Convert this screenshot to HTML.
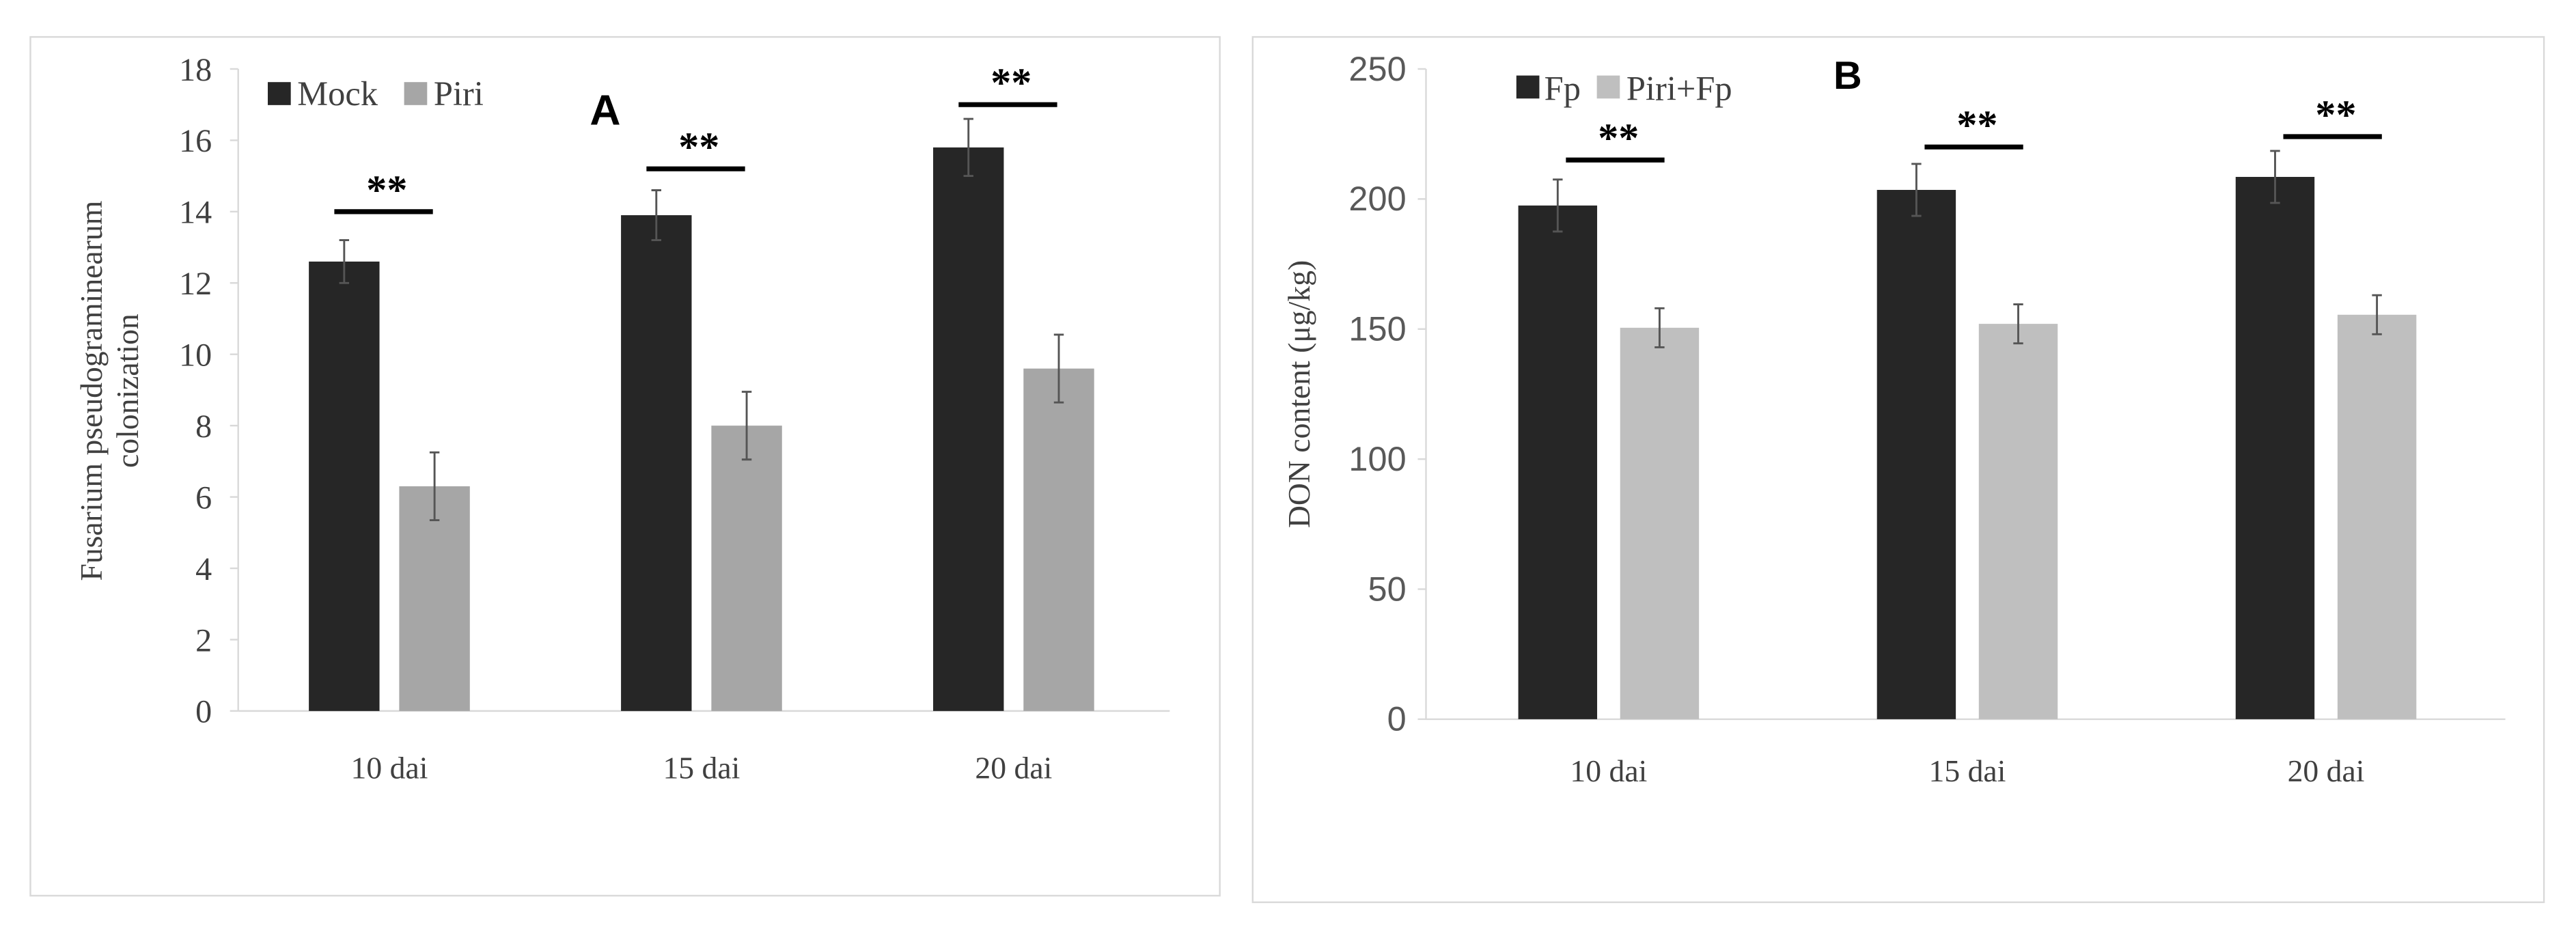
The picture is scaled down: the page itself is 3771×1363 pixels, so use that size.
<!DOCTYPE html>
<html><head><meta charset="utf-8"><style>
html,body{margin:0;padding:0;background:#fff;}
svg{display:block;}
</style></head><body>
<svg id="fig" width="3771" height="1363" viewBox="0 0 1568 567" preserveAspectRatio="none" xmlns="http://www.w3.org/2000/svg">
<rect x="18.5" y="22.5" width="724" height="523" fill="#fff" stroke="#d9d9d9" stroke-width="1"/>
<rect x="762.5" y="22.5" width="786" height="527" fill="#fff" stroke="#d9d9d9" stroke-width="1"/>
<g id="chartA"></g>
<g id="chartB"></g>
</svg>
<script>
const categories = ["10 dai","15 dai","20 dai"];
const mockValues = [12.6, 13.9, 15.8];
const mockErr = [0.6, 0.7, 0.8];
const piriValues = [6.3, 8.0, 9.6];
const piriErr = [0.95, 0.95, 0.95];
const ticksA = [0,2,4,6,8,10,12,14,16,18];
const sigA = [14.0, 15.2, 17.0];

const fpValues = [197.5, 203.5, 208.5];
const fpErr = [10, 10, 10];
const piriFpValues = [150.5, 152, 155.5];
const piriFpErr = [7.5, 7.5, 7.5];
const ticksB = [0,50,100,150,200,250];
const sigB = [215, 220, 224];

const NS = "http://www.w3.org/2000/svg";
function mk(parent, tag, attrs, text){
  const e = document.createElementNS(NS, tag);
  for (const k in attrs) e.setAttribute(k, attrs[k]);
  if (text !== undefined) e.textContent = text;
  parent.appendChild(e);
  return e;
}

function drawChart(g, cfg){
  const y = v => cfg.y0 - (v - cfg.min) / (cfg.max - cfg.min) * (cfg.y0 - cfg.y1);
  const catW = (cfg.xR - cfg.xC) / categories.length;
  const xc = i => cfg.xC + catW * (i + 0.5);
  const ax = mk(g,'line',{x1:cfg.xL,y1:cfg.y1,x2:cfg.xL,y2:cfg.y0,stroke:'#d9d9d9','stroke-width':1});
  
  
  const bx = mk(g,'line',{x1:cfg.xL,y1:cfg.y0,x2:cfg.xR,y2:cfg.y0,stroke:'#d9d9d9','stroke-width':1});
  
  
  cfg.ticks.forEach(t=>{
    const tl = mk(g,'line',{x1:cfg.xL-5,y1:y(t),x2:cfg.xL,y2:y(t),stroke:'#d9d9d9','stroke-width':1});
    
    
    const tx = mk(g,'text',{x:cfg.xL-cfg.tickGap,y:y(t)+7,'text-anchor':'end','font-family':cfg.tickFont,'font-size':cfg.tickSize,fill:cfg.tickColor},String(t));
    
    
  });
  categories.forEach((c,i)=>{
    const cx = xc(i);
    const series = [[cfg.s1,cfg.e1,cfg.c1,-1],[cfg.s2,cfg.e2,cfg.c2,1]];
    series.forEach(([vals,errs,col,side],si)=>{
      const bxL = side<0 ? cx - cfg.gap/2 - cfg.barW : cx + cfg.gap/2;
      const r = mk(g,'rect',{x:bxL,y:y(vals[i]),width:cfg.barW,height:y(cfg.min)-y(vals[i]),fill:col});
      
      
      const mx = bxL + cfg.barW/2;
      const eg = mk(g,'path',{d:`M${mx} ${y(vals[i]+errs[i])}V${y(vals[i]-errs[i])}M${mx-3} ${y(vals[i]+errs[i])}H${mx+3}M${mx-3} ${y(vals[i]-errs[i])}H${mx+3}`,stroke:'#555','stroke-width':1.2,fill:'none'});
      
      
    });
    const sx = cx - cfg.gap/2 - cfg.barW/2 + cfg.sigOff;
    const sl = mk(g,'line',{x1:sx,y1:y(cfg.sig[i]),x2:sx+60,y2:y(cfg.sig[i]),stroke:'#000','stroke-width':3});
    
    
    const st = mk(g,'text',{x:sx+32,y:y(cfg.sig[i])-5,'text-anchor':'middle','font-family':'Liberation Serif, serif','font-size':25,'font-weight':'bold',fill:'#000'},'**');
    
    
    const cl = mk(g,'text',{x:cx,y:cfg.y0+cfg.catDy,'text-anchor':'middle','font-family':'Liberation Serif, serif','font-size':19,fill:'#404040'},c);
    
    
  });
}

const A = document.getElementById('chartA');
drawChart(A,{xL:145,xC:142,xR:712,y0:433,y1:42,min:0,max:18,ticks:ticksA,barW:43,gap:12,sigOff:-6,catDy:41,
  s1:mockValues,e1:mockErr,s2:piriValues,e2:piriErr,c1:'#262626',c2:'#a6a6a6',n1:'mock',n2:'piri',sig:sigA,
  tickFont:'Liberation Serif, serif',tickSize:20,tickColor:'#404040',tickGap:16});
const B = document.getElementById('chartB');
drawChart(B,{xL:868,xC:870,xR:1525,y0:438,y1:42,min:0,max:250,ticks:ticksB,barW:48,gap:14,sigOff:5,catDy:38,
  s1:fpValues,e1:fpErr,s2:piriFpValues,e2:piriFpErr,c1:'#262626',c2:'#bfbfbf',n1:'fp',n2:'piri-fp',sig:sigB,
  tickFont:'Liberation Sans Narrow, Liberation Sans, sans-serif',tickSize:21,tickColor:'#595959',tickGap:12});

function lab(parent,name,attrs,text){const e=mk(parent,'text',attrs,text);return e;}
function box(parent,name,attrs){const e=mk(parent,'rect',attrs);return e;}
box(A,'legend-mock-swatch',{x:163,y:50,width:14,height:14,fill:'#262626'});
lab(A,'legend-mock-label',{x:181,y:64,'font-family':'Liberation Serif, serif','font-size':21,fill:'#404040'},'Mock');
box(A,'legend-piri-swatch',{x:246,y:50,width:14,height:14,fill:'#a6a6a6'});
lab(A,'legend-piri-label',{x:264,y:64,'font-family':'Liberation Serif, serif','font-size':21,fill:'#404040'},'Piri');
lab(A,'panel-label-a',{x:359,y:76,'font-family':'Liberation Sans, sans-serif','font-size':26,'font-weight':'bold',fill:'#000'},'A');
lab(A,'y-axis-title-line1',{x:0,y:0,transform:'translate(62,238) rotate(-90)','text-anchor':'middle','font-family':'Liberation Serif, serif','font-size':19,fill:'#404040'},'Fusarium pseudograminearum');
lab(A,'y-axis-title-line2',{x:0,y:0,transform:'translate(84,238) rotate(-90)','text-anchor':'middle','font-family':'Liberation Serif, serif','font-size':19,fill:'#404040'},'colonization');

box(B,'legend-fp-swatch',{x:923,y:46,width:14,height:14,fill:'#262626'});
lab(B,'legend-fp-label',{x:940,y:61,'font-family':'Liberation Serif, serif','font-size':21,fill:'#404040'},'Fp');
box(B,'legend-piri-fp-swatch',{x:972,y:46,width:14,height:14,fill:'#bfbfbf'});
lab(B,'legend-piri-fp-label',{x:990,y:61,'font-family':'Liberation Serif, serif','font-size':21,fill:'#404040'},'Piri+Fp');
lab(B,'panel-label-b',{x:1116,y:54,'font-family':'Liberation Sans, sans-serif','font-size':24,'font-weight':'bold',fill:'#000'},'B');
lab(B,'y-axis-title',{x:0,y:0,transform:'translate(797,240) rotate(-90)','text-anchor':'middle','font-family':'Liberation Serif, serif','font-size':19,fill:'#404040'},'DON content (μg/kg)');
</script>
</body></html>
